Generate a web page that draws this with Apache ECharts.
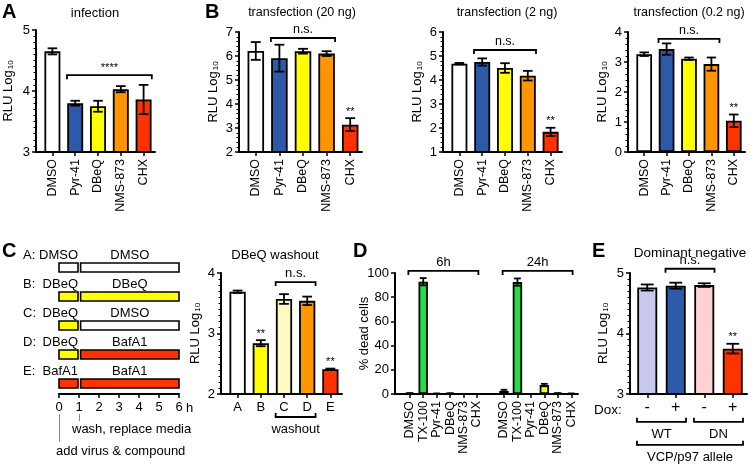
<!DOCTYPE html>
<html><head><meta charset="utf-8">
<script src="https://cdn.jsdelivr.net/npm/echarts@6/dist/echarts.min.js"></script>
<style>html,body{margin:0;padding:0;background:#fff}#c{width:750px;height:465px}</style>
</head><body><div id="c"></div>
<script>
// ---------- data ----------
const drugs = ['DMSO','Pyr-41','DBeQ','NMS-873','CHX'];
const infectionMean = [4.65,3.80,3.75,4.03,3.86];
const infectionErr  = [0.05,0.04,0.09,0.05,0.24];
const tf20Mean = [6.21,5.91,6.20,6.10,3.14];
const tf20Err  = [0.37,0.56,0.10,0.10,0.27];
const tf20Sig  = ['','','','','**'];
const tf2Mean = [4.68,4.75,4.50,4.18,1.84];
const tf2Err  = [0.03,0.15,0.20,0.20,0.17];
const tf2Sig  = ['','','','','**'];
const tf02Mean = [3.26,3.43,3.11,2.93,1.04];
const tf02Err  = [0.06,0.19,0.04,0.22,0.21];
const tf02Sig  = ['','','','','**'];
const schedRows = ['A','B','C','D','E'];
const schedPre  = ['DMSO','DBeQ','DBeQ','DBeQ','BafA1'];
const schedPost = ['DMSO','DBeQ','DMSO','BafA1','BafA1'];
const washCats = ['A','B','C','D','E'];
const washMean = [3.69,2.84,3.57,3.54,2.41];
const washErr  = [0.02,0.05,0.08,0.07,0.01];
const washSig  = ['','**','','','**'];
const deadDrugs = ['DMSO','TX-100','Pyr-41','DBeQ','NMS-873','CHX'];
const dead6h     = [0.5,92.8,0.3,0.4,0.1,0.1];
const dead6hErr  = [0.2,3.0,0.1,0.1,0,0];
const dead24h    = [2.5,92.5,0,7.4,0.5,0.3];
const dead24hErr = [1.0,3.0,0,1.0,0.2,0.1];
const doxCats = ['-','+','-','+'];
const dnMean = [4.76,4.79,4.80,3.75];
const dnErr  = [0.05,0.05,0.03,0.08];
const dnSig  = ['','','','**'];

// ---------- style ----------
const F = '"Liberation Sans", Arial, Helvetica, sans-serif';
const K = '#000';
const COL = {white:'#ffffff', blue:'#2c5aa8', yellow:'#ffff00', orange:'#ff9500', red:'#ff3300',
  green:'#22dd44', pale:'#fffac4', lav:'#c9c9ef', pink:'#ffd1d1'};
const drugColor = {'DMSO':COL.white,'Pyr-41':COL.blue,'DBeQ':COL.yellow,'NMS-873':COL.orange,
  'CHX':COL.red,'TX-100':COL.green,'BafA1':COL.red,'':COL.white};
const RLU = '{b|RLU Log}{s|10}';
const nameRich = {b:{fontSize:13,fontFamily:F,color:K}, s:{fontSize:8,fontFamily:F,color:K,verticalAlign:'bottom',lineHeight:10,padding:[6,0,0,1]}};

const option = {animation:false, backgroundColor:'#fff', textStyle:{fontFamily:F},
  grid:[], xAxis:[], yAxis:[], series:[], graphic:[]};

function seg(x1,y1,x2,y2,w){return {type:'line', shape:{x1,y1,x2,y2}, style:{stroke:K, lineWidth:w||1.8}};}

function barPanel(p){
  const gi = option.grid.length;
  const off = p.offset===undefined?5:p.offset;
  option.grid.push({left:p.left, top:p.top, width:p.width, height:p.height});
  option.xAxis.push({type:'category', gridIndex:gi, data:p.cats,
    axisLine:{show:true, lineStyle:{color:K,width:2}},
    axisTick:{show:true, alignWithLabel:true, length:4, lineStyle:{color:K,width:1.5},
      interval: p.tickInterval || 0},
    axisLabel:{interval:0, rotate:p.rotate===undefined?90:p.rotate, color:K,
      fontSize:p.xFont||12.5, fontFamily:F, margin:p.xMargin||7}});
  option.yAxis.push({type:'value', gridIndex:gi, min:p.min, max:p.max, interval:p.interval||1,
    offset:off,
    axisLine:{show:true, lineStyle:{color:K,width:2}},
    axisTick:{show:true, length:4, lineStyle:{color:K,width:1.5}},
    minorTick:{show:p.minorSplit>0, splitNumber:p.minorSplit||5, length:2.5, lineStyle:{color:K,width:1}},
    splitLine:{show:false}, minorSplitLine:{show:false},
    axisLabel:{color:K, fontSize:13, fontFamily:F, margin:6},
    name:p.yName, nameLocation:'middle', nameGap:p.nameGap||20, nameRotate:90, nameMoveOverlap:false,
    nameTextStyle:{color:K, fontSize:13, fontFamily:F, rich:nameRich}});
  option.series.push({type:'bar', xAxisIndex:gi, yAxisIndex:gi, barWidth:p.barWidth||'70%',
    silent:true, clip:true,
    itemStyle:{borderColor:K, borderWidth:1.8},
    data:p.mean.map((v,i)=>({value:v, itemStyle:{color:p.colors[i]}}))});
  const errData = [];
  p.mean.forEach((v,i)=>{ if(v!=='-') errData.push([i, v, p.err[i]]); });
  option.series.push({type:'custom', xAxisIndex:gi, yAxisIndex:gi, clip:false, silent:true, z:5,
    data:errData,
    renderItem:(params, api)=>{
      const i=api.value(0), m=api.value(1), e=api.value(2);
      const top=api.coord([i,m+e]), bot=api.coord([i,m-e]);
      const band=api.size([1,0])[0];
      const cw=band*(p.capFrac||0.42);
      const ch=[];
      if(e>0){
        ch.push(seg(top[0],top[1],bot[0],bot[1]));
        ch.push(seg(top[0]-cw/2,top[1],top[0]+cw/2,top[1]));
        ch.push(seg(bot[0]-cw/2,bot[1],bot[0]+cw/2,bot[1]));
      }
      const s=p.sig&&p.sig[i];
      if(s) ch.push({type:'text', x:top[0], y:top[1]-1,
        style:{text:s, fill:K, font:'11px '+F, align:'center', verticalAlign:'bottom'}});
      if(params.dataIndex===0){
        // join the x axis line to the offset y axis line
        const o=api.coord([0,p.min]);
        const xl=o[0]-band/2;
        ch.push({type:'line', shape:{x1:xl-off-1,y1:o[1],x2:xl+1,y2:o[1]}, style:{stroke:K,lineWidth:2}});
      }
      return {type:'group', children:ch};
    }});
  if(p.brackets){
    const list=p.brackets;
    option.series.push({type:'custom', xAxisIndex:gi, yAxisIndex:gi, clip:false, silent:true, z:6,
      data:list.map((b,k)=>[b[0],b[2],k]),
      renderItem:(params, api)=>{
        const b=list[params.dataIndex];
        const half=api.size([1,0])[0]*(b[5]||0.36);
        const a=api.coord([b[0],b[2]]), c=api.coord([b[1],b[2]]);
        const x1=a[0]-half, x2=c[0]+half, y=a[1];
        const d=b[4]==='up'?-4:4;
        const ch=[{type:'polyline', shape:{points:[[x1,y+d],[x1,y],[x2,y],[x2,y+d]]},
          style:{stroke:K, lineWidth:1.8, fill:null}}];
        ch.push({type:'text', x:(x1+x2)/2, y:b[4]==='up'? y+6 : y-2,
          style:{text:b[3], fill:K, font:(b[6]||'12.5px ')+F, align:'center',
            verticalAlign:b[4]==='up'?'top':'bottom'}});
        return {type:'group', children:ch};
      }});
  }
  return gi;
}

const drugCols = drugs.map(d=>drugColor[d]);

// A
barPanel({left:39, top:30, width:116, height:122, cats:drugs, min:3, max:5, minorSplit:10,
  mean:infectionMean, err:infectionErr, colors:drugCols, yName:RLU, nameGap:21,
  brackets:[[1,4,4.26,'****','down',0.36,'11px ']]});
// B 20 ng
barPanel({left:244, top:32, width:118, height:120, cats:drugs, min:2, max:7, minorSplit:5,
  mean:tf20Mean, err:tf20Err, sig:tf20Sig, colors:drugCols, yName:RLU, nameGap:19,
  brackets:[[1,3,6.75,'n.s.','down']]});
// B 2 ng
barPanel({left:448, top:32, width:114, height:120, cats:drugs, min:1, max:6, minorSplit:5,
  mean:tf2Mean, err:tf2Err, sig:tf2Sig, colors:drugCols, yName:RLU, nameGap:19,
  brackets:[[1,3,5.25,'n.s.','down']]});
// B 0.2 ng
barPanel({left:633, top:32, width:112, height:120, cats:drugs, min:0, max:4, minorSplit:5,
  mean:tf02Mean, err:tf02Err, sig:tf02Sig, colors:drugCols, yName:RLU, nameGap:19,
  brackets:[[1,3,3.77,'n.s.','down']]});
// C right
barPanel({left:226, top:273, width:116, height:121, cats:washCats, min:2, max:4, minorSplit:10, rotate:0,
  xFont:13, mean:washMean, err:washErr, sig:washSig,
  colors:[COL.white,COL.yellow,COL.pale,COL.orange,COL.red], yName:RLU, nameGap:19,
  brackets:[[2,3,3.85,'n.s.','down',0.36,'13px '],[2,3,1.62,'washout','up',0.36,'13px ']]});
// D
const deadCats = deadDrugs.concat([''], deadDrugs);
barPanel({left:403, top:273, width:175, height:121, cats:deadCats, min:0, max:100, interval:20,
  minorSplit:0, offset:8, xFont:12.5,
  tickInterval:(idx,val)=>val!=='',
  mean:dead6h.concat(['-'], dead24h), err:dead6hErr.concat([0], dead24hErr),
  colors:deadCats.map(d=>drugColor[d]), yName:'% dead cells', nameGap:24, capFrac:0.5,
  brackets:[[0,5,101.7,'6h','down',0.1,'13px '],[7,12,101.7,'24h','down',0.1,'13px ']]});
// E
barPanel({left:633, top:273, width:114, height:121, cats:doxCats, min:3, max:5, minorSplit:10, rotate:0,
  xFont:16, xMargin:6, mean:dnMean, err:dnErr, sig:dnSig,
  colors:[COL.lav,COL.blue,COL.pink,COL.red], yName:RLU, nameGap:20, offset:3, capFrac:0.45,
  brackets:[[1,2,5.07,'n.s.','down',0.36,'13px '],[0,1,2.54,'WT','up',0.36,'13px '],
            [2,3,2.54,'DN','up',0.36,'13px '],[0,3,2.16,'VCP/p97 allele','up',0.36,'13px ']]});

// C left: treatment schedule
const gT = option.grid.length;
option.grid.push({left:59, top:253, width:120, height:145});
option.xAxis.push({type:'value', gridIndex:gT, min:0, max:6, interval:1, offset:-4,
  axisLine:{show:true, lineStyle:{color:K,width:2}},
  axisTick:{show:true, length:4, lineStyle:{color:K,width:1.5}},
  splitLine:{show:false},
  axisLabel:{color:K, fontSize:13, fontFamily:F, margin:7}});
option.yAxis.push({type:'category', gridIndex:gT, data:schedRows, inverse:true, show:false});
option.series.push({type:'custom', xAxisIndex:gT, yAxisIndex:gT, clip:false, silent:true,
  data:schedRows.map((r,i)=>[0,i]),
  renderItem:(params, api)=>{
    const i=params.dataIndex;
    const p0=api.coord([0,i]), p1=api.coord([0.95,i]), p2=api.coord([1.08,i]), p3=api.coord([6,i]);
    const y=p0[1], h=9;
    const st=(d)=>({fill:drugColor[d], stroke:K, lineWidth:1.6});
    return {type:'group', children:[
      {type:'rect', shape:{x:p0[0], y:y-h/2, width:p1[0]-p0[0], height:h}, style:st(schedPre[i])},
      {type:'rect', shape:{x:p2[0], y:y-h/2, width:p3[0]-p2[0], height:h}, style:st(schedPost[i])},
      {type:'text', x:p0[0]-36, y:y-12.5, style:{text:schedRows[i]+':', fill:K, font:'13px '+F, align:'left', verticalAlign:'middle'}},
      {type:'text', x:p1[0], y:y-12.5, style:{text:schedPre[i], fill:K, font:'13px '+F, align:'right', verticalAlign:'middle'}},
      {type:'text', x:(p2[0]+p3[0])/2, y:y-12.5, style:{text:schedPost[i], fill:K, font:'13px '+F, align:'center', verticalAlign:'middle'}}
    ]};
  }});

// ---------- annotations ----------
function txt(t,x,y,font,align){return {type:'text', x, y, silent:true,
  style:{text:t, fill:K, font:font+' '+F, align:align||'center', verticalAlign:'middle'}};}
option.graphic = [
  txt('A',2,12,'bold 20px','left'),
  txt('infection',95,13,'13px'),
  txt('B',205,12,'bold 20px','left'),
  txt('transfection (20 ng)',302,13,'12.5px'),
  txt('transfection (2 ng)',507,13,'12.5px'),
  txt('transfection (0.2 ng)',689,13,'12.5px'),
  txt('C',2,251,'bold 20px','left'),
  txt('DBeQ washout',275,255,'13px'),
  txt('D',353,251,'bold 20px','left'),
  txt('E',592,251,'bold 20px','left'),
  txt('Dominant negative',690,253,'13.5px'),
  txt('Dox:',594,410,'13.5px','left'),
  txt('h',186,408,'13px','left'),
  txt('wash, replace media',72,429,'13px','left'),
  txt('add virus & compound',56,451,'13px','left'),
  {type:'line', silent:true, shape:{x1:59.5,y1:414,x2:59.5,y2:442}, style:{stroke:'#888',lineWidth:1}},
  {type:'line', silent:true, shape:{x1:79.5,y1:414,x2:79.5,y2:421}, style:{stroke:'#888',lineWidth:1}}
];

const chart = echarts.init(document.getElementById('c'));
chart.setOption(option);
</script></body></html>
